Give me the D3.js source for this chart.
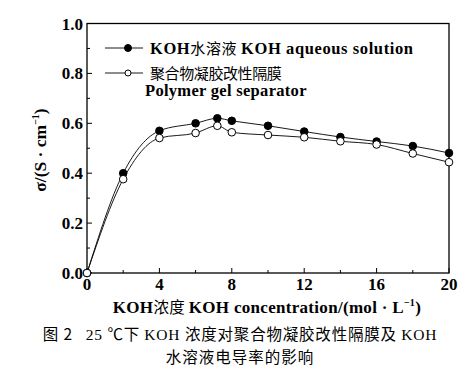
<!DOCTYPE html>
<html lang="zh">
<head>
<meta charset="UTF-8">
<title>KOH conductivity</title>
<script src="https://cdnjs.cloudflare.com/ajax/libs/d3/7.8.5/d3.min.js"></script>
<style>
  html, body { margin: 0; padding: 0; background: #fff; }
  svg { display: block; }
  text { white-space: pre; }
  .serif { font-family: "Liberation Serif", "DejaVu Serif", serif; font-weight: bold; }
  .cjk { font-family: "Noto Sans CJK SC", sans-serif; font-weight: normal; }
</style>
</head>
<body>
<div id="chart"></div>
<script>
// data
var concentration = [0, 2, 4, 6, 7.2, 8, 10, 12, 14, 16, 18, 20];
var aqueous = [0, 0.40, 0.57, 0.60, 0.62, 0.61, 0.59, 0.567, 0.545, 0.527, 0.509, 0.481];
var gelSeparator = [0, 0.376, 0.541, 0.561, 0.59, 0.564, 0.553, 0.544, 0.528, 0.515, 0.479, 0.444];
var xTicks = [0, 4, 8, 12, 16, 20];
var yTicks = [0, 0.2, 0.4, 0.6, 0.8, 1.0];

var W = 467, H = 373;
var plotLeft = 87, plotRight = 449, plotTop = 23.5, plotBottom = 273;

var svg = d3.select('#chart').append('svg')
    .attr('width', W)
    .attr('height', H);

svg.append('rect').attr('width', W).attr('height', H).attr('fill', '#fff');

var x = d3.scaleLinear().domain([0, 20]).range([plotLeft, plotRight]);
var y = d3.scaleLinear().domain([0, 1]).range([plotBottom, plotTop]);

// frame
svg.append('rect')
    .attr('x', plotLeft).attr('y', plotTop)
    .attr('width', plotRight - plotLeft).attr('height', plotBottom - plotTop)
    .attr('fill', 'none').attr('stroke', '#000').attr('stroke-width', 1.3);

// inward ticks
var g = svg.append('g').attr('stroke', '#000').attr('stroke-width', 1);
d3.range(0, 1.0001, 0.1).forEach(function (v, i) {
    var len = i % 2 === 0 ? 5 : 3;
    g.append('line').attr('x1', plotLeft).attr('x2', plotLeft + len).attr('y1', y(v)).attr('y2', y(v));
});
d3.range(0, 20.001, 2).forEach(function (v, i) {
    var len = i % 2 === 0 ? 5 : 3;
    g.append('line').attr('x1', x(v)).attr('x2', x(v)).attr('y1', plotBottom).attr('y2', plotBottom - len);
});

// tick labels
svg.append('g').selectAll('text').data(yTicks).join('text')
    .attr('class', 'serif')
    .attr('x', plotLeft - 4)
    .attr('y', function (d) { return y(d) + 6; })
    .attr('text-anchor', 'end')
    .attr('font-size', 17)
    .text(function (d) { return d.toFixed(1); });

svg.append('g').selectAll('text').data(xTicks).join('text')
    .attr('class', 'serif')
    .attr('x', function (d) { return x(d); })
    .attr('y', plotBottom + 17)
    .attr('text-anchor', 'middle')
    .attr('font-size', 17)
    .text(function (d) { return d; });

// series
var series = [
    { values: aqueous, filled: true },
    { values: gelSeparator, filled: false }
];

var line = d3.line()
    .x(function (d) { return x(d[0]); })
    .y(function (d) { return y(d[1]); })
    .curve(d3.curveMonotoneX);

series.forEach(function (s) {
    var pts = concentration.map(function (c, i) { return [c, s.values[i]]; });
    svg.append('path')
        .attr('d', line(pts))
        .attr('fill', 'none')
        .attr('stroke', '#000')
        .attr('stroke-width', 0.9);
    svg.append('g').selectAll('circle').data(pts).join('circle')
        .attr('cx', function (d) { return x(d[0]); })
        .attr('cy', function (d) { return y(d[1]); })
        .attr('r', 3.8)
        .attr('fill', s.filled ? '#000' : '#fff')
        .attr('stroke', '#000')
        .attr('stroke-width', 1);
});

// legend
var legend = svg.append('g');
[{ yy: 48, filled: true }, { yy: 73, filled: false }].forEach(function (d) {
    legend.append('line').attr('x1', 105).attr('x2', 143).attr('y1', d.yy).attr('y2', d.yy)
        .attr('stroke', '#000').attr('stroke-width', 0.9);
    legend.append('circle').attr('cx', 128).attr('cy', d.yy).attr('r', d.filled ? 3.5 : 3)
        .attr('fill', d.filled ? '#000' : '#fff').attr('stroke', '#000');
});
var t1 = legend.append('text').attr('x', 150).attr('y', 54).attr('font-size', 16.5)
    .attr('class', 'serif').attr('letter-spacing', 0.6);
t1.append('tspan').text('KOH');
t1.append('tspan').attr('class', 'cjk').attr('font-size', 15).text('水溶液 ');
t1.append('tspan').text('KOH aqueous solution');
legend.append('text').attr('class', 'cjk').attr('x', 150).attr('y', 79).attr('font-size', 15)
    .attr('letter-spacing', -0.4).text('聚合物凝胶改性隔膜');
legend.append('text').attr('class', 'serif').attr('x', 145).attr('y', 96).attr('font-size', 16.5)
    .attr('letter-spacing', 0.3).text('Polymer gel separator');

// axis titles
var xt = svg.append('text').attr('class', 'serif').attr('x', 267).attr('y', 313)
    .attr('text-anchor', 'middle').attr('font-size', 17).attr('letter-spacing', 0.3);
xt.append('tspan').text('KOH');
xt.append('tspan').attr('class', 'cjk').attr('font-size', 15.5).text('浓度 ');
xt.append('tspan').text('KOH concentration/(mol · L');
xt.append('tspan').attr('font-size', 10).attr('dy', -7).text('−1');
xt.append('tspan').attr('dy', 7).text(')');

var yt = svg.append('text').attr('class', 'serif')
    .attr('transform', 'translate(46,150) rotate(-90)')
    .attr('text-anchor', 'middle').attr('font-size', 17.5);
yt.append('tspan').text('σ/(S · cm');
yt.append('tspan').attr('font-size', 10).attr('dy', -7).text('−1');
yt.append('tspan').attr('dy', 7).text(')');

// caption
var cap = svg.append('text').attr('class', 'cjk').attr('x', 240).attr('y', 340)
    .attr('text-anchor', 'middle').attr('font-size', 15.5).attr('font-weight', 'bold')
    .attr('letter-spacing', 0.8);
cap.append('tspan').text('图 2   ');
cap.append('tspan').attr('font-family', 'Liberation Serif').text('25 ');
cap.append('tspan').text('℃下 ');
cap.append('tspan').attr('font-family', 'Liberation Serif').text('KOH ');
cap.append('tspan').text('浓度对聚合物凝胶改性隔膜及 ');
cap.append('tspan').attr('font-family', 'Liberation Serif').text('KOH');
svg.append('text').attr('class', 'cjk').attr('x', 240).attr('y', 363)
    .attr('text-anchor', 'middle').attr('font-size', 15.5).attr('font-weight', 'bold')
    .attr('letter-spacing', 1).text('水溶液电导率的影响');
</script>
</body>
</html>
